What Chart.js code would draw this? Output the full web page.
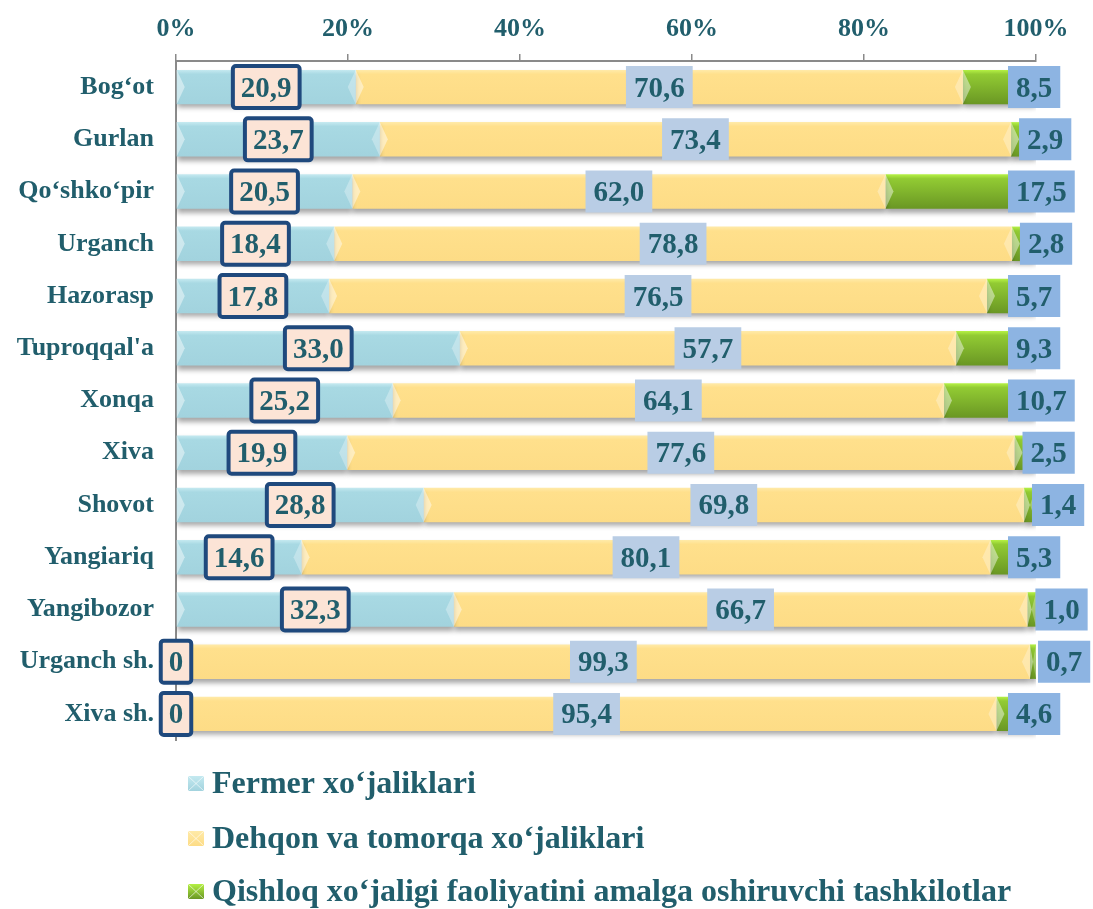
<!DOCTYPE html>
<html>
<head>
<meta charset="utf-8">
<script src="https://cdn.jsdelivr.net/npm/chart.js@4.4.1/dist/chart.umd.min.js"></script>
<style>
  html, body { margin: 0; background: #fff; }
  #wrap { width: 1093px; height: 909px; position: relative; }
</style>
</head>
<body>
<div id="wrap"><canvas id="chart"></canvas></div>
<script>
// ── Data ───────────────────────────────────────────────────────────────────
const regions = ['Bog‘ot', 'Gurlan', 'Qo‘shko‘pir', 'Urganch', 'Hazorasp', "Tuproqqal'a",
  'Xonqa', 'Xiva', 'Shovot', 'Yangiariq', 'Yangibozor', 'Urganch sh.', 'Xiva sh.'];
const fermer    = [20.9, 23.7, 20.5, 18.4, 17.8, 33.0, 25.2, 19.9, 28.8, 14.6, 32.3, 0, 0];
const dehqon    = [70.6, 73.4, 62.0, 78.8, 76.5, 57.7, 64.1, 77.6, 69.8, 80.1, 66.7, 99.3, 95.4];
const tashkilot = [8.5, 2.9, 17.5, 2.8, 5.7, 9.3, 10.7, 2.5, 1.4, 5.3, 1.0, 0.7, 4.6];
const seriesNames = [
  'Fermer xo‘jaliklari',
  'Dehqon va tomorqa xo‘jaliklari',
  'Qishloq xo‘jaligi faoliyatini amalga oshiruvchi tashkilotlar',
];
const xMin = 0, xMax = 100, xStep = 20;

// ── Styles ─────────────────────────────────────────────────────────────────
const TEXT = '#215e6c';
const SERIF = '"Liberation Serif", "Times New Roman", serif';
const FILLS = [
  { top: '#c4e9f0', mid: '#a8d9e3', bot: '#a2d3de' },
  { top: '#ffeaa8', mid: '#ffe08c', bot: '#fddc86' },
  { top: '#b4f044', mid: '#92cb33', bot: '#6a9724' },
];
const LABEL_BOX = [
  { fill: '#fce4d6', border: '#1f497d', bw: 4 },
  { fill: '#b9cde5', border: null, bw: 0 },
  { fill: '#8db4e2', border: null, bw: 0 },
];
const HALF_BAR = 17;

function barFill(i) {
  return (ctx) => {
    const chart = ctx.chart;
    const y = chart.scales && chart.scales.y;
    if (!y || ctx.dataIndex === undefined || !chart.chartArea) return FILLS[i].mid;
    const c = y.getPixelForValue(ctx.dataIndex);
    const g = chart.ctx.createLinearGradient(0, c - HALF_BAR, 0, c + HALF_BAR);
    g.addColorStop(0, FILLS[i].top);
    g.addColorStop(0.12, FILLS[i].mid);
    g.addColorStop(1, FILLS[i].bot);
    return g;
  };
}

const fmt = (v) => v === 0 ? '0' : v.toFixed(1).replace('.', ',');

// bar shadows
const shadowPlugin = {
  id: 'barShadow',
  beforeDatasetDraw(chart) {
    const c = chart.ctx;
    c.save();
    c.shadowColor = 'rgba(0,0,0,0.35)';
    c.shadowBlur = 5;
    c.shadowOffsetY = 4;
  },
  afterDatasetDraw(chart) { chart.ctx.restore(); },
};

// bevel highlights + value labels
const labelPlugin = {
  id: 'valueLabels',
  afterDatasetsDraw(chart) {
    const c = chart.ctx;
    c.save();
    chart.data.datasets.forEach((ds, di) => {
      chart.getDatasetMeta(di).data.forEach((el) => {
        const x0 = Math.min(el.x, el.base), x1 = Math.max(el.x, el.base);
        if (x1 - x0 < 1) return;
        const t = el.y - el.height / 2, b = el.y + el.height / 2;
        const w = Math.min(8, (x1 - x0) / 2);
        c.fillStyle = 'rgba(255,255,255,0.45)';
        c.beginPath(); c.moveTo(x0, t); c.lineTo(x0 + w, el.y); c.lineTo(x0, b); c.closePath(); c.fill();
        c.fillStyle = 'rgba(255,255,255,0.3)';
        c.beginPath(); c.moveTo(x1, t); c.lineTo(x1 - w, el.y); c.lineTo(x1, b); c.closePath(); c.fill();
      });
    });
    c.font = 'bold 29px ' + SERIF;
    c.textAlign = 'center';
    c.textBaseline = 'middle';
    chart.data.datasets.forEach((ds, di) => {
      const st = LABEL_BOX[di];
      chart.getDatasetMeta(di).data.forEach((el, i) => {
        const txt = fmt(ds.data[i]);
        const tw = c.measureText(txt).width;
        const bw = tw + 16, bh = 42;
        let cx;
        if (di === 2) {
          // last segment: label sits near the bar end, pushed right of tiny segments
          const s = Math.min(el.x, el.base), e = Math.max(el.x, el.base);
          cx = Math.max(s + 8, e - 28) + bw / 2;
        } else {
          cx = (el.x + el.base) / 2;
        }
        const bx = cx - bw / 2, by = el.y - bh / 2;
        c.fillStyle = st.fill;
        c.beginPath();
        c.roundRect(bx, by, bw, bh, st.border ? 3 : 0);
        c.fill();
        if (st.border) {
          c.lineWidth = st.bw;
          c.strokeStyle = st.border;
          c.beginPath();
          c.roundRect(bx, by, bw, bh, 3);
          c.stroke();
        }
        c.fillStyle = TEXT;
        c.fillText(txt, cx, el.y + 2);
      });
    });
    c.restore();
  },
};

// legend stacked one entry per line
const legendPlugin = {
  id: 'stackLegend',
  afterDraw(chart) {
    const c = chart.ctx;
    const rows = [783, 838, 891];
    c.save();
    c.font = 'bold 32px ' + SERIF;
    c.textAlign = 'left';
    c.textBaseline = 'middle';
    chart.data.datasets.forEach((ds, i) => {
      const y = rows[i];
      const g = c.createLinearGradient(0, y - 7, 0, y + 8);
      g.addColorStop(0, FILLS[i].top);
      g.addColorStop(1, FILLS[i].bot);
      c.fillStyle = g;
      c.fillRect(188, y - 7, 16, 15);
      c.strokeStyle = 'rgba(255,255,255,0.6)';
      c.lineWidth = 1;
      c.beginPath();
      c.moveTo(188, y - 7); c.lineTo(204, y + 8);
      c.moveTo(204, y - 7); c.lineTo(188, y + 8);
      c.stroke();
      c.fillStyle = TEXT;
      c.fillText(ds.label, 212, y + 2);
    });
    c.restore();
  },
};

const seriesData = [fermer, dehqon, tashkilot];

new Chart(document.getElementById('chart'), {
  type: 'bar',
  data: {
    labels: regions,
    datasets: seriesData.map((d, i) => ({
      label: seriesNames[i],
      data: d,
      backgroundColor: barFill(i),
      borderWidth: 0,
      barPercentage: 0.66,
      categoryPercentage: 1,
    })),
  },
  options: {
    indexAxis: 'y',
    responsive: true,
    maintainAspectRatio: false,
    animation: false,
    layout: { padding: { top: 0, right: 57, bottom: 169, left: 0 } },
    plugins: {
      legend: { display: false },
      tooltip: { enabled: false },
    },
    scales: {
      x: {
        position: 'top',
        stacked: true,
        min: xMin,
        max: xMax,
        ticks: {
          stepSize: xStep,
          color: TEXT,
          font: { family: SERIF, size: 26, weight: 'bold' },
          padding: 9,
          callback: (v) => v + '%',
        },
        grid: { drawOnChartArea: false, color: '#8a8a8a', lineWidth: 1.5, tickLength: 7 },
        border: { color: '#8a8a8a', width: 2 },
        afterFit(s) { s.height = 61; },
      },
      y: {
        stacked: true,
        ticks: {
          color: TEXT,
          font: { family: SERIF, size: 26, weight: 'bold' },
          padding: 22,
        },
        grid: { display: false, drawTicks: false },
        border: { color: '#8a8a8a', width: 2 },
        afterFit(s) { s.width = 176; },
      },
    },
  },
  plugins: [shadowPlugin, labelPlugin, legendPlugin],
});
</script>
</body>
</html>
